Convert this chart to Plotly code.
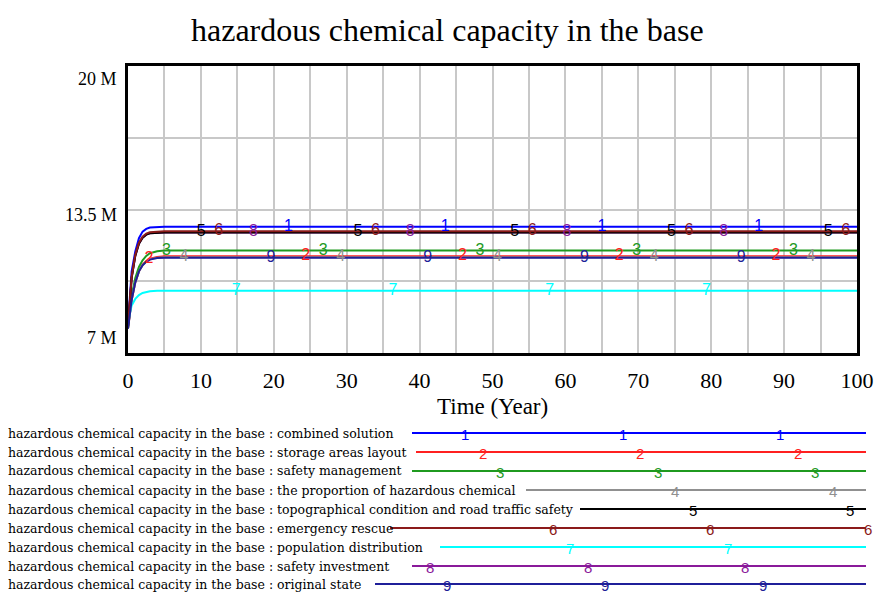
import plotly.graph_objects as go
import numpy as np

# ---------------- data ----------------
time_pts = [0, 0.5, 1, 1.5, 2, 2.5, 3, 4, 5, 100]

combined_solution   = [8.3, 10.7, 11.6, 12.2, 12.5, 12.62, 12.68, 12.71, 12.72, 12.72]
storage_areas       = [8.1, 9.4, 10.2, 10.7, 11.0, 11.17, 11.27, 11.35, 11.38, 11.38]
safety_management   = [8.1, 9.6, 10.4, 10.9, 11.2, 11.4, 11.52, 11.61, 11.64, 11.64]
proportion_hazard   = [8.1, 9.4, 10.2, 10.7, 10.98, 11.14, 11.24, 11.31, 11.34, 11.34]
topographical       = [8.2, 10.4, 11.4, 11.95, 12.22, 12.36, 12.42, 12.45, 12.46, 12.46]
emergency_rescue    = [8.2, 10.45, 11.45, 12.0, 12.27, 12.41, 12.47, 12.51, 12.52, 12.52]
population_distrib  = [8.4, 9.15, 9.45, 9.62, 9.72, 9.77, 9.8, 9.82, 9.82, 9.82]
safety_investment   = [8.2, 10.4, 11.4, 11.95, 12.22, 12.36, 12.42, 12.45, 12.46, 12.46]
original_state      = [8.1, 9.4, 10.2, 10.7, 10.97, 11.13, 11.23, 11.3, 11.32, 11.32]

series_names = ["combined solution", "storage areas layout", "safety management",
                "the proportion of hazardous chemical",
                "topographical condition and road traffic safety",
                "emergency rescue", "population distribution",
                "safety investment", "original state"]
series_values = [combined_solution, storage_areas, safety_management, proportion_hazard,
                 topographical, emergency_rescue, population_distrib,
                 safety_investment, original_state]
series_colors = ["#0000ff", "#ff2020", "#1f9a1f", "#909090", "#000000",
                 "#8b1a1a", "#00ffff", "#8a1a9a", "#1f1f99"]

x_ticks = [0, 10, 20, 30, 40, 50, 60, 70, 80, 90, 100]
y_tick_labels = ["20 M", "13.5 M", "7 M"]
y_tick_vals = [20, 13.5, 7]

# ---------------- layout helpers ----------------
W, H = 878, 593
PX0, PX1, PY0, PY1 = 128, 857, 66, 353   # plot area in pixels


def px(x):
    return x / W


def py(y):
    return 1 - y / H


SERIF = "Liberation Serif, Times New Roman, serif"
LEGSERIF = "DejaVu Serif, serif"
DIGIT = "Liberation Sans, Arial, sans-serif"

fig = go.Figure()

draw_order = [0, 1, 2, 3, 6, 7, 4, 5, 8]
for i in draw_order:
    fig.add_trace(go.Scatter(x=time_pts, y=series_values[i], mode="lines",
                             line=dict(color=series_colors[i], width=2),
                             showlegend=False, hoverinfo="skip"))

# numbered labels along lines
period = 21.5
for i in range(9):
    ts = []
    n = 0
    while True:
        t = 0.5 + i * period / 9 + n * period
        if t > 100:
            break
        if t > 2:
            ts.append(t)
        n += 1
    ys = np.interp(ts, time_pts, series_values[i])
    fig.add_trace(go.Scatter(x=ts, y=ys, mode="text", text=[str(i + 1)] * len(ts),
                             textposition="middle center",
                             textfont=dict(family=DIGIT, size=16, color=series_colors[i]),
                             showlegend=False, hoverinfo="skip", cliponaxis=False))

annotations = []
shapes = []

# y labels
for lab, yv, off in zip(y_tick_labels, y_tick_vals, [13, 6, -15]):
    ypix = PY1 - (yv - 7) / 13 * (PY1 - PY0) + off
    annotations.append(dict(x=px(119), y=py(ypix), xref="paper", yref="paper",
                            text=lab, showarrow=False, xanchor="right", yanchor="middle",
                            font=dict(family=SERIF, size=18, color="#000")))

# title
annotations.append(dict(x=px(447), y=py(30), xref="paper", yref="paper",
                        text="hazardous chemical capacity in the base", showarrow=False,
                        xanchor="center", yanchor="middle",
                        font=dict(family=SERIF, size=32, color="#000")))
# x title
annotations.append(dict(x=px(492), y=py(406), xref="paper", yref="paper",
                        text="Time (Year)", showarrow=False,
                        xanchor="center", yanchor="middle",
                        font=dict(family=SERIF, size=23, color="#000")))

# legend
row_y = [433, 452, 471, 490, 509, 528, 547, 566, 584]
line_start = [412, 416, 412, 526, 580, 390, 440, 412, 375]
line_end = 866
for i in range(9):
    yy = row_y[i]
    annotations.append(dict(x=px(6), y=py(yy), xref="paper", yref="paper",
                            text="hazardous chemical capacity in the base : " + series_names[i],
                            showarrow=False, xanchor="left", yanchor="middle",
                            font=dict(family=LEGSERIF, size=12.5, color="#000")))
    shapes.append(dict(type="line", xref="paper", yref="paper",
                       x0=px(line_start[i]), x1=px(line_end), y0=py(yy), y1=py(yy),
                       line=dict(color=series_colors[i], width=2)))
    base = 430 + ((i - 7) % 9) * 17.5
    for n in range(6):
        xm = base + n * 157.5
        if line_start[i] + 4 <= xm <= line_end + 4:
            annotations.append(dict(x=px(xm), y=py(yy + 1), xref="paper", yref="paper",
                                    text=str(i + 1), showarrow=False,
                                    xanchor="center", yanchor="middle",
                                    font=dict(family=DIGIT, size=15, color=series_colors[i])))

fig.update_layout(
    width=W, height=H,
    margin=dict(l=0, r=0, t=0, b=0, pad=0, autoexpand=False),
    plot_bgcolor="white", paper_bgcolor="white",
    annotations=annotations, shapes=shapes,
    xaxis=dict(domain=[px(PX0), px(PX1)], range=[0, 100], tickvals=x_ticks,
               ticktext=[str(v) for v in x_ticks], showgrid=True, gridcolor="#c8c8c8",
               gridwidth=2, minor=dict(dtick=5, tick0=0, showgrid=True, gridcolor="#c8c8c8",
                                       gridwidth=2),
               showline=True, mirror=True, linecolor="#000", linewidth=3, zeroline=False,
               ticks="", ticklabelstandoff=6, automargin=False,
               tickfont=dict(family=SERIF, size=22, color="#000")),
    yaxis=dict(domain=[py(PY1), py(PY0)], range=[7, 20],
               tickvals=[7, 10.25, 13.5, 16.75, 20], showticklabels=False,
               showgrid=True, gridcolor="#c8c8c8", gridwidth=2, automargin=False,
               showline=True, mirror=True, linecolor="#000", linewidth=3, zeroline=False,
               ticks=""),
)

fig.write_html("out.html",
               config={"responsive": False, "displayModeBar": False},
               default_width="878px", default_height="593px",
               post_script="document.body.style.margin='0';document.body.style.padding='0';"
                           "document.body.style.overflow='hidden';"
                           "document.documentElement.style.overflow='hidden';")
